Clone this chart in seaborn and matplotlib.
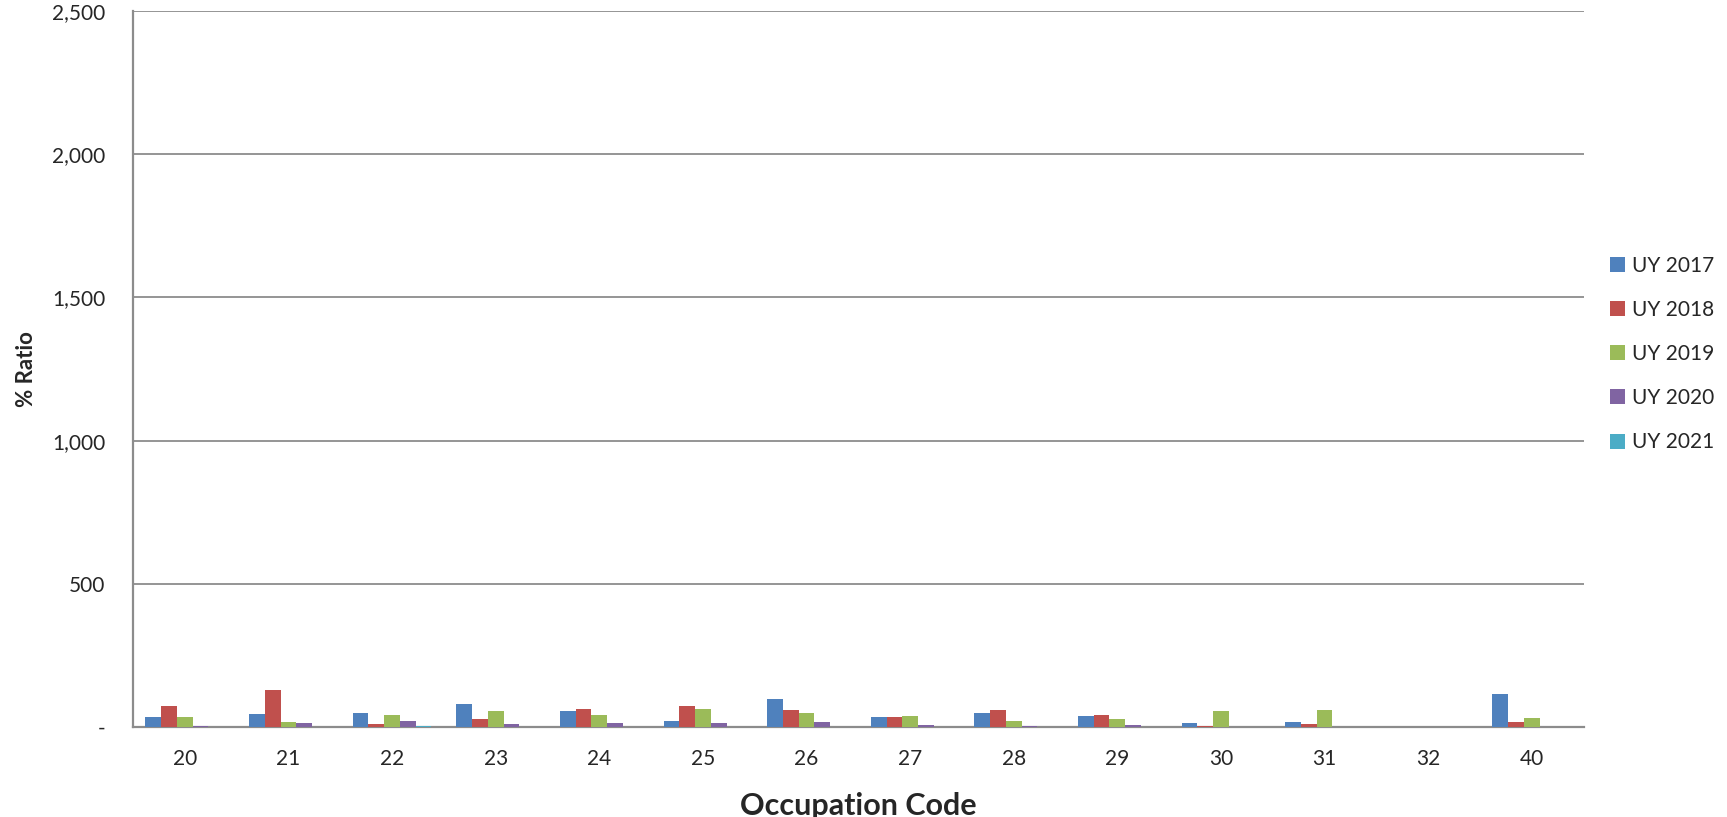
import matplotlib
matplotlib.use("Agg")
import matplotlib.pyplot as plt
from matplotlib.ticker import FuncFormatter, FixedLocator
import seaborn as sns
import pandas as pd
import numpy as np

# Occupation codes and UY series
codes = ["20", "21", "22", "23", "24", "25", "26", "27", "28", "29", "30", "31", "32", "40"]
uy_2017 = [36, 45, 50, 80, 56, 21, 97, 37, 50, 40, 14, 19, 0, 116]
uy_2018 = [75, 130, 12, 29, 62, 74, 61, 36, 61, 41, 5, 12, 0, 17]
uy_2019 = [35, 17, 41, 57, 43, 62, 49, 40, 21, 28, 55, 59, 0, 33]
uy_2020 = [4, 15, 21, 12, 13, 13, 19, 8, 3, 8, 0, 0, 0, 0]
uy_2021 = [0, 0, 4, 0, 0, 0, 0, 0, 0, 0, 0, 0, 0, 0]
years = ["UY 2017", "UY 2018", "UY 2019", "UY 2020", "UY 2021"]
colors = ["#4F81BD", "#C0504D", "#9BBB59", "#8064A2", "#4BACC6"]

series = [uy_2017, uy_2018, uy_2019, uy_2020, uy_2021]
df = pd.DataFrame({
    "code": codes * len(years),
    "year": np.repeat(years, len(codes)),
    "ratio": np.concatenate(series),
})

sns.set_style("white")
plt.rcParams["font.family"] = ["Lato", "DejaVu Sans"]

fig = plt.figure(figsize=(17.27, 8.17), dpi=100)
ax = fig.add_axes([0.077, 0.110, 0.840, 0.8765])

sns.barplot(data=df, x="code", y="ratio", hue="year", order=codes,
            hue_order=years, palette=colors, saturation=1, width=0.76, ax=ax,
            linewidth=0, errorbar=None, zorder=3)

ax.set_ylim(0, 2500)
ax.set_xlim(-0.5, len(codes) - 0.5)
ax.set_yticks([0, 500, 1000, 1500, 2000, 2500])
ax.yaxis.set_major_formatter(FuncFormatter(lambda v, p: "-" if v == 0 else f"{int(v):,}"))
ax.grid(axis="y", color="#8c8c8c", linewidth=1.3, zorder=0)

# ticks at category boundaries, labels at centres
ax.xaxis.set_minor_locator(FixedLocator(np.arange(-0.5, len(codes), 1.0)))
ax.tick_params(axis="x", which="major", length=0, labelsize=15, pad=16)
ax.tick_params(axis="x", which="minor", length=7, width=1.3, color="#8c8c8c", direction="out")
ax.tick_params(axis="y", length=6, width=1.3, color="#8c8c8c", direction="out", labelsize=15, pad=14)

for side in ["top", "right"]:
    ax.spines[side].set_visible(False)
for side in ["left", "bottom"]:
    ax.spines[side].set_color("#8c8c8c")
    ax.spines[side].set_linewidth(1.6)

ax.set_xlabel("Occupation Code", fontsize=22, fontweight="bold", labelpad=16)
ax.set_ylabel("% Ratio", fontsize=16, fontweight="bold", labelpad=11)

ax.legend(loc="center left", bbox_to_anchor=(1.018, 0.521), frameon=False,
          fontsize=15, handlelength=0.72, handleheight=0.72, labelspacing=1.16,
          handletextpad=0.34, borderpad=0, borderaxespad=0)

plt.savefig("out.png", dpi=100)
plt.close()
